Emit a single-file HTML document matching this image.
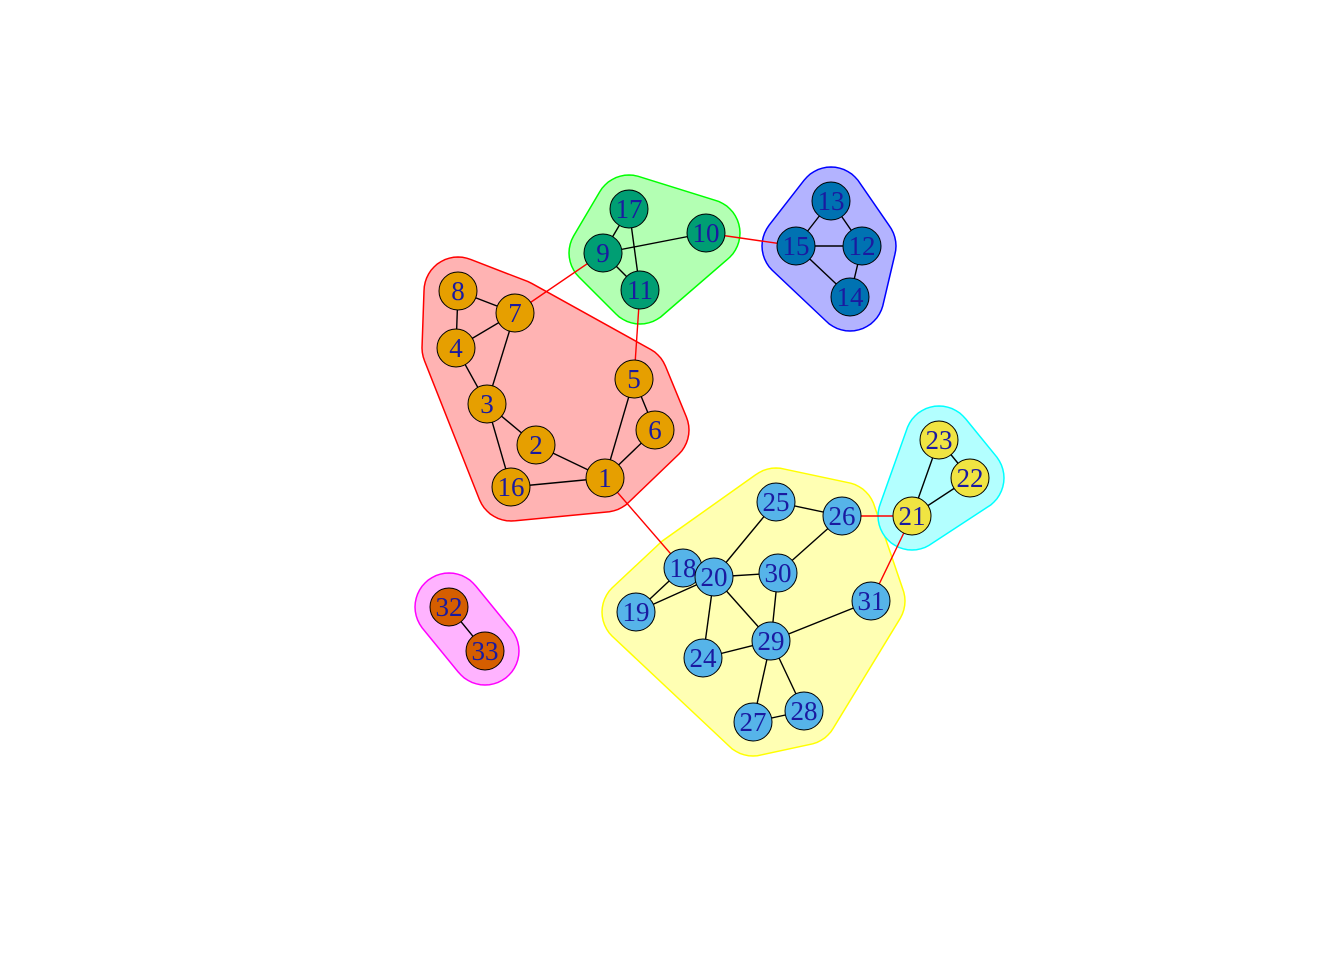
<!DOCTYPE html>
<html><head><meta charset="utf-8"><style>
html,body{margin:0;padding:0;background:#fff}
svg{display:block}
text{font-family:"Liberation Serif",serif;font-size:27px;fill:#1a1aa0}
</style></head><body>
<svg id="chart" width="1344" height="960" viewBox="0 0 1344 960" xmlns="http://www.w3.org/2000/svg">
<g id="hulls"></g>
<g id="edges"></g>
<g id="nodes"></g>
</svg>
<script>
const nodeIds=[1,2,3,4,5,6,7,8,9,10,11,12,13,14,15,16,17,18,19,20,21,22,23,24,25,26,27,28,29,30,31,32,33];
const nodeX=[605,536,487,456,634,655,515,458,603,706,640,862,831,850,796,511,629,683,636,714,912,970,939,703,776,842,753,804,771,778,871,449,485];
const nodeY=[478,445,404,348,379,430,313,291,253,233,290,246,201,297,246,487,209,568,612,577,516,478,440,658,502,516,722,711,641,573,601,607,651];
const nodeGroup=[0,0,0,0,0,0,0,0,1,1,1,2,2,2,2,0,1,3,3,3,4,4,4,3,3,3,3,3,3,3,3,5,5];
const groupFill=["#FFB3B3","#B3FFB3","#B3B3FF","#FFFFB3","#B3FFFF","#FFB3FF"];
const groupStroke=["#FF0000","#00FF00","#0000FF","#FFFF00","#00FFFF","#FF00FF"];
const groupNodeColor=["#E69F00","#009E73","#0072B2","#56B4E9","#F0E442","#D55E00"];
const edgeFrom=[8,8,4,4,7,3,3,2,16,1,1,5,17,17,9,9,13,13,15,15,14,23,23,22,18,19,18,20,20,20,20,25,26,30,29,29,29,29,27,32,7,11,10,1,26,21];
const edgeTo=[7,4,7,3,3,2,16,1,1,5,6,6,9,11,10,11,15,12,12,14,12,21,22,21,19,20,20,30,25,24,29,26,30,29,24,31,27,28,28,33,9,5,15,18,21,31];
const NS="http://www.w3.org/2000/svg";
const R=19,PAD=34;
function hull(pts){pts.sort((a,b)=>a[0]-b[0]||a[1]-b[1]);const cr=(o,a,b)=>(a[0]-o[0])*(b[1]-o[1])-(a[1]-o[1])*(b[0]-o[0]);const lo=[],up=[];for(const p of pts){while(lo.length>=2&&cr(lo[lo.length-2],lo[lo.length-1],p)<=0)lo.pop();lo.push(p);}for(let i=pts.length-1;i>=0;i--){const p=pts[i];while(up.length>=2&&cr(up[up.length-2],up[up.length-1],p)<=0)up.pop();up.push(p);}lo.pop();up.pop();return lo.concat(up);}
const hg=document.getElementById('hulls');
for(let g=0;g<groupFill.length;g++){
  const pts=[];
  for(let i=0;i<nodeIds.length;i++){if(nodeGroup[i]!==g)continue;for(let k=0;k<48;k++){const a=k/48*Math.PI*2;pts.push([nodeX[i]+PAD*Math.cos(a),nodeY[i]+PAD*Math.sin(a)]);}}
  const h=hull(pts);
  const p=document.createElementNS(NS,'polygon');
  p.setAttribute('points',h.map(q=>q[0].toFixed(1)+','+q[1].toFixed(1)).join(' '));
  p.setAttribute('fill',groupFill[g]);p.setAttribute('stroke',groupStroke[g]);p.setAttribute('stroke-width','1.5');
  
  
  hg.appendChild(p);
}
const eg=document.getElementById('edges');
for(let e=0;e<edgeFrom.length;e++){
  const a=nodeIds.indexOf(edgeFrom[e]),b=nodeIds.indexOf(edgeTo[e]);
  const l=document.createElementNS(NS,'line');
  l.setAttribute('x1',nodeX[a]);l.setAttribute('y1',nodeY[a]);l.setAttribute('x2',nodeX[b]);l.setAttribute('y2',nodeY[b]);
  l.setAttribute('stroke',nodeGroup[a]===nodeGroup[b]?'#000':'#FF0000');l.setAttribute('stroke-width','1.4');
  
  
  eg.appendChild(l);
}
const ng=document.getElementById('nodes');
for(let i=0;i<nodeIds.length;i++){
  const gg=document.createElementNS(NS,'g');
  
  
  const c=document.createElementNS(NS,'circle');
  c.setAttribute('cx',nodeX[i]);c.setAttribute('cy',nodeY[i]);c.setAttribute('r',R);
  c.setAttribute('fill',groupNodeColor[nodeGroup[i]]);c.setAttribute('stroke','#000');c.setAttribute('stroke-width','1');
  gg.appendChild(c);
  const t=document.createElementNS(NS,'text');
  t.setAttribute('x',nodeX[i]);t.setAttribute('y',nodeY[i]+9);t.setAttribute('text-anchor','middle');
  t.textContent=nodeIds[i];
  gg.appendChild(t);
  ng.appendChild(gg);
}
</script>
</body></html>
